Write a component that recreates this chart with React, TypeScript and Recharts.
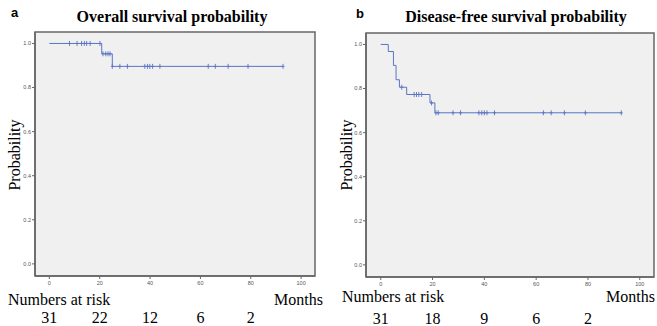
import React from "react";
import {
  ComposedChart,
  Line,
  Scatter,
  XAxis,
  YAxis,
  ReferenceArea,
} from "recharts";

// axis ticks
const monthTicks = [0, 20, 40, 60, 80, 100];
const probTicks = [0, 0.2, 0.4, 0.6, 0.8, 1.0];

// numbers at risk under months 0, 20, 40, 60, 80
const osAtRisk = [31, 22, 12, 6, 2];
const dfsAtRisk = [31, 18, 9, 6, 2];

// overall survival step curve
const osTimes = [0, 20.8, 25, 93];
const osProbs = [1.0, 0.953, 0.896, 0.896];
const osCensored = [8, 11, 12.8, 13.9, 14.8, 16.2, 20.1, 21.3, 22.4, 23.3, 24.1, 25, 28, 31, 37.9, 39, 39.9, 41, 43.9, 63.1, 65.9, 71, 78.9, 92.8];

// disease-free survival step curve
const dfsTimes = [0, 2.9, 4.9, 5.9, 7.2, 10, 19, 20.9, 93];
const dfsProbs = [1.0, 0.968, 0.905, 0.84, 0.806, 0.773, 0.735, 0.69, 0.69];
const dfsCensored = [8.1, 12.9, 13.8, 14.7, 15.8, 19.6, 21.3, 22.2, 27.9, 30.8, 37.9, 39, 40, 41, 43.9, 62.8, 65.8, 70.9, 79, 92.9];

const X_DOMAIN: [number, number] = [-5.7, 105.5];
const Y_DOMAIN: [number, number] = [-0.055, 1.052];

const lineColor = "#5a75c4";
const serif = "'Liberation Serif', 'Times New Roman', serif";
const sans = "'Liberation Sans', Arial, sans-serif";

// survival value at time t (last step at or before t)
function probAt(times: number[], probs: number[], t: number) {
  let p = probs[0];
  for (let i = 0; i < times.length; i++) {
    if (times[i] <= t) p = probs[i];
  }
  return p;
}

function CensorMark(props: any) {
  const { cx, cy } = props;
  if (cx == null || cy == null) return null;
  return (
    <g stroke={lineColor} strokeWidth={0.9}>
      <line x1={cx} y1={cy - 2.5} x2={cx} y2={cy + 2.5} />
      <line x1={cx - 1.5} y1={cy} x2={cx + 1.5} y2={cy} />
    </g>
  );
}

function makeTick(risk: number[]) {
  return (props: any) => {
    const { x, y, payload, index } = props;
    return (
      <g>
        <text x={x} y={y + 4} textAnchor="middle" fontSize={5.5} fill="#555" fontFamily={sans}>
          {payload.value}
        </text>
        {index < risk.length && (
          <text x={x} y={y + 42} textAnchor="middle" fontSize={16} fill="#000" fontFamily={serif}>
            {risk[index]}
          </text>
        )}
      </g>
    );
  };
}

interface PanelProps {
  left: number;
  width: number;
  yAxisWidth: number;
  margin: { top: number; right: number; left: number; bottom: number };
  xAxisHeight: number;
  times: number[];
  probs: number[];
  censored: number[];
  risk: number[];
}

function SurvivalPanel({ left, width, yAxisWidth, margin, xAxisHeight, times, probs, censored, risk }: PanelProps) {
  const stepData = times.map((t, i) => ({ t, p: probs[i] }));
  const censorData = censored.map((t) => ({ t, p: probAt(times, probs, t) }));
  return (
    <div style={{ position: "absolute", left, top: 0 }}>
      <ComposedChart width={width} height={326} margin={margin}>
        <XAxis
          type="number"
          dataKey="t"
          domain={X_DOMAIN}
          ticks={monthTicks}
          allowDataOverflow
          height={xAxisHeight}
          tickSize={3}
          tickMargin={2}
          axisLine={{ stroke: "#666", strokeWidth: 1.5 }}
          tickLine={{ stroke: "#666" }}
          tick={makeTick(risk)}
          interval={0}
        />
        <YAxis
          type="number"
          dataKey="p"
          domain={Y_DOMAIN}
          ticks={probTicks}
          allowDataOverflow
          width={yAxisWidth}
          tickSize={3}
          tickMargin={1}
          axisLine={{ stroke: "#666", strokeWidth: 1.5 }}
          tickLine={{ stroke: "#666" }}
          tick={{ fontSize: 5.5, fill: "#555", fontFamily: sans }}
          tickFormatter={(v: number) => v.toFixed(1)}
          interval={0}
        />
        <ReferenceArea
          x1={X_DOMAIN[0]}
          x2={X_DOMAIN[1]}
          y1={Y_DOMAIN[0]}
          y2={Y_DOMAIN[1]}
          fill="#f0f0f0"
          fillOpacity={1}
          stroke="#666"
          strokeWidth={1.5}
        />
        <Line
          data={stepData}
          dataKey="p"
          type="stepAfter"
          stroke={lineColor}
          strokeWidth={1}
          dot={false}
          isAnimationActive={false}
        />
        <Scatter data={censorData} dataKey="p" shape={<CensorMark />} isAnimationActive={false} />
      </ComposedChart>
    </div>
  );
}

export default function App() {
  return (
    <div style={{ position: "absolute", left: 0, top: 0, width: 657, height: 326, background: "#fff" }}>
      <SurvivalPanel
        left={0}
        width={330}
        yAxisWidth={35}
        margin={{ top: 32, right: 15, left: 0, bottom: 0 }}
        xAxisHeight={50}
        times={osTimes}
        probs={osProbs}
        censored={osCensored}
        risk={osAtRisk}
      />
      <SurvivalPanel
        left={330}
        width={327}
        yAxisWidth={36}
        margin={{ top: 33, right: 3, left: 0, bottom: 0 }}
        xAxisHeight={49}
        times={dfsTimes}
        probs={dfsProbs}
        censored={dfsCensored}
        risk={dfsAtRisk}
      />
      <svg width={657} height={326} style={{ position: "absolute", left: 0, top: 0, pointerEvents: "none" }}>
        <text x={11} y={17} fontFamily={sans} fontWeight="bold" fontSize={13}>a</text>
        <text x={356} y={18} fontFamily={sans} fontWeight="bold" fontSize={13}>b</text>
        <text x={172} y={22} textAnchor="middle" fontFamily={serif} fontWeight="bold" fontSize={16}>
          Overall survival probability
        </text>
        <text x={516} y={22} textAnchor="middle" fontFamily={serif} fontWeight="bold" fontSize={16}>
          Disease-free survival probability
        </text>
        <text x={0} y={0} transform="translate(20,155) rotate(-90)" textAnchor="middle" fontFamily={serif} fontSize={16}>
          Probability
        </text>
        <text x={0} y={0} transform="translate(352,155) rotate(-90)" textAnchor="middle" fontFamily={serif} fontSize={16}>
          Probability
        </text>
        <text x={8} y={305} fontFamily={serif} fontSize={16}>Numbers at risk</text>
        <text x={323} y={305} textAnchor="end" fontFamily={serif} fontSize={16}>Months</text>
        <text x={342} y={302} fontFamily={serif} fontSize={16}>Numbers at risk</text>
        <text x={655} y={302} textAnchor="end" fontFamily={serif} fontSize={16}>Months</text>
      </svg>
    </div>
  );
}
